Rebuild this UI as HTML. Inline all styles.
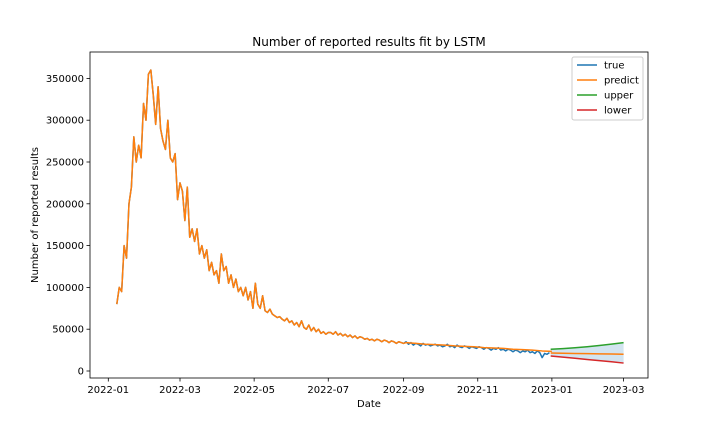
<!DOCTYPE html>
<html><head><meta charset="utf-8">
<style>
html,body{margin:0;padding:0;background:#fff;}
svg{display:block;font-family:"DejaVu Sans","Liberation Sans",sans-serif;}
</style></head>
<body>
<svg id="chart" width="720" height="432" viewBox="0 0 720 432">
<rect x="0" y="0" width="720" height="432" fill="#fff"/>
<text x="369" y="46" font-size="12" text-anchor="middle">Number of reported results fit by LSTM</text>
<text x="369" y="407" font-size="10" text-anchor="middle">Date</text>
<text x="0" y="0" font-size="10" text-anchor="middle" transform="translate(38,215) rotate(-90)">Number of reported results</text>
<g id="plot"></g>
<g id="axes"></g>
<g id="legend">
<rect x="572" y="57" width="71" height="63" rx="2" fill="#fff" stroke="#ccc" stroke-width="1"/>
</g>
</svg>
<script>
const trueStartDay = 7;
const trueStep = 2;
const trueValues = [80000,100000,95000,150000,135000,200000,220000,280000,250000,270000,255000,320000,300000,355000,360000,330000,295000,340000,290000,275000,265000,300000,255000,250000,260000,205000,225000,215000,180000,220000,160000,170000,155000,170000,140000,150000,135000,145000,120000,130000,115000,120000,105000,140000,120000,125000,105000,115000,100000,110000,95000,100000,90000,100000,85000,95000,75000,105000,80000,75000,90000,72000,70000,74000,68000,66000,64000,65000,62000,60000,63000,58000,60000,55000,58000,53000,60000,52000,50000,55000,48000,52000,47000,50000,45000,47000,44000,46000,
46000,44000,47000,43000,45000,42000,44000,41000,43000,40000,42000,39000,41000,40000,38000,
39000,37000,38000,36000,38000,37000,35000,37000,36000,34000,36000,35000,33000,35000,34000,
33000,35000,32000,34000,31000,33000,32000,30000,33000,31000,32000,30000,31000,32000,30000,
31000,29000,30000,32000,29000,30000,28000,31000,29000,28000,30000,29000,27000,29000,28000,
27000,29000,28000,26000,28000,27000,25000,27000,26000,28000,25000,26000,24000,26000,25000,
23000,25000,24000,22000,24000,23000,25000,22000,23000,21000,24000,22000,16000,21000,20000,22000];
const predStartDay = 245;
const predStep = 8;
const predValues = [34000,33000,32000,31500,31000,30000,29500,29000,28000,27500,27000,26000,25500,25000,24000,23500];
const fcDays = [364,374,384,394,404,414,424];
const fcPredict = [21500,21200,21000,20800,20500,20300,20000];
const fcUpper = [26000,26800,27800,29000,30500,32200,34000];
const fcLower = [18000,16600,15200,13800,12400,11000,9500];
const yTicks = [0,50000,100000,150000,200000,250000,300000,350000];
const xTickDays = [0,59,120,181,243,304,365,424];
const xTickLabels = ["2022-01","2022-03","2022-05","2022-07","2022-09","2022-11","2023-01","2023-03"];
const legendLabels = ["true","predict","upper","lower"];
const legendColors = ["#1f77b4","#ff7f0e","#2ca02c","#d62728"];

const NS="http://www.w3.org/2000/svg";
const L=90,R=648,T=52,B=378;
function xs(d){return 108.3+d*1.2153;}
function ys(v){return 371-v*41.8/50000;}
function mk(tag,attrs,parent){const e=document.createElementNS(NS,tag);for(const k in attrs)e.setAttribute(k,attrs[k]);parent.appendChild(e);return e;}
const plot=document.getElementById('plot'),axes=document.getElementById('axes');
function pts(days,vals){return days.map((d,i)=>xs(d).toFixed(2)+','+ys(vals[i]).toFixed(2)).join(' ');}
const tDays=trueValues.map((v,i)=>trueStartDay+i*trueStep);
const pDays=predValues.map((v,i)=>predStartDay+i*predStep);
const band=mk('polygon',{points:pts(fcDays,fcUpper)+' '+pts(fcDays.slice().reverse(),fcLower.slice().reverse()),fill:'#1f77b4','fill-opacity':'0.2',stroke:'none'},plot);


const tl=mk('polyline',{points:pts(tDays,trueValues),fill:'none',stroke:'#1f77b4','stroke-width':1.5,'stroke-linejoin':'round'},plot);


const fitDays=[],fitVals=[];
tDays.forEach((d,i)=>{if(d<predStartDay){fitDays.push(d);fitVals.push(trueValues[i]);}});
pDays.forEach((d,i)=>{fitDays.push(d);fitVals.push(predValues[i]);});
const pl=mk('polyline',{points:pts(fitDays,fitVals),fill:'none',stroke:'#ff7f0e','stroke-width':1.5,'stroke-linejoin':'round'},plot);


const fp=mk('polyline',{points:pts(fcDays,fcPredict),fill:'none',stroke:'#ff7f0e','stroke-width':1.5},plot);


const up=mk('polyline',{points:pts(fcDays,fcUpper),fill:'none',stroke:'#2ca02c','stroke-width':1.5},plot);


const lo=mk('polyline',{points:pts(fcDays,fcLower),fill:'none',stroke:'#d62728','stroke-width':1.5},plot);


const fr=mk('rect',{x:L,y:T,width:R-L,height:B-T,fill:'none',stroke:'#000','stroke-width':0.8},axes);


yTicks.forEach(v=>{const y=ys(v);
 mk('line',{x1:L-3.5,x2:L,y1:y,y2:y,stroke:'#000','stroke-width':0.8},axes);
 const t=mk('text',{x:L-6,y:y+3.5,'font-size':10,'text-anchor':'end'},axes);t.textContent=v;
 
 
});
xTickDays.forEach((d,i)=>{const x=xs(d);
 mk('line',{x1:x,x2:x,y1:B,y2:B+3.5,stroke:'#000','stroke-width':0.8},axes);
 const t=mk('text',{x:x,y:B+15,'font-size':10,'text-anchor':'middle'},axes);t.textContent=xTickLabels[i];
 
 
});
const lg=document.getElementById('legend');
legendLabels.forEach((lab,i)=>{const y=65+i*15;
 const g=mk('g',{},lg);
 
 
 mk('line',{x1:577,x2:597,y1:y,y2:y,stroke:legendColors[i],'stroke-width':1.5},g);
 const t=mk('text',{x:604,y:y+3.5,'font-size':10},g);t.textContent=lab;
});
</script>
</body></html>
